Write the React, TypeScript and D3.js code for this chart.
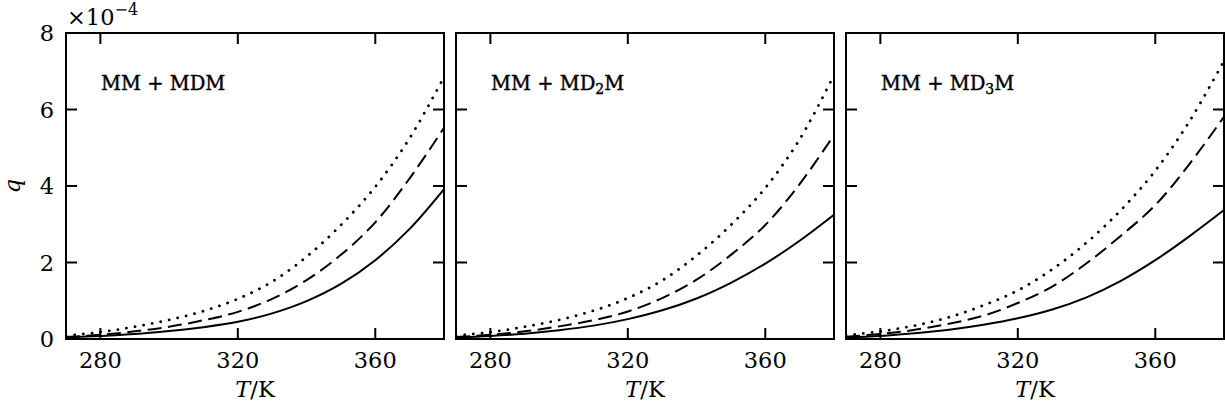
import React from 'react';
import * as d3 from 'd3';

// Temperature grid (K)
const temps = [270, 280, 290, 300, 310, 320, 330, 340, 350, 360, 370, 380];

// q values in units of 1e-4
const mdmSolid = [0.04, 0.08, 0.13, 0.21, 0.31, 0.45, 0.67, 0.99, 1.44, 2.06, 2.88, 3.92];
const mdmDashed = [0.05, 0.11, 0.2, 0.32, 0.49, 0.71, 1.05, 1.54, 2.2, 3.05, 4.2, 5.52];
const mdmDotted = [0.09, 0.18, 0.32, 0.5, 0.73, 1.05, 1.5, 2.15, 2.98, 3.98, 5.25, 6.85];

const md2mSolid = [0.04, 0.08, 0.14, 0.23, 0.35, 0.52, 0.75, 1.06, 1.47, 1.97, 2.57, 3.25];
const md2mDashed = [0.05, 0.11, 0.2, 0.33, 0.49, 0.72, 1.07, 1.55, 2.2, 2.98, 4.05, 5.33];
const md2mDotted = [0.09, 0.18, 0.32, 0.5, 0.74, 1.07, 1.53, 2.18, 2.98, 3.95, 5.22, 6.9];

const md3mSolid = [0.04, 0.08, 0.15, 0.24, 0.37, 0.54, 0.77, 1.09, 1.52, 2.06, 2.69, 3.37];
const md3mDashed = [0.06, 0.13, 0.24, 0.4, 0.61, 0.94, 1.37, 1.98, 2.7, 3.5, 4.58, 5.81];
const md3mDotted = [0.1, 0.2, 0.35, 0.57, 0.88, 1.27, 1.82, 2.52, 3.37, 4.4, 5.7, 7.27];

const panelNames = ['MDM', 'MD2M', 'MD3M'];
const xTicks = [280, 320, 360];
const yTicks = [0, 2, 4, 6, 8];

const panels = [
  { name: panelNames[0], sub: '', series: [mdmSolid, mdmDashed, mdmDotted] },
  { name: panelNames[1], sub: '2', series: [md2mSolid, md2mDashed, md2mDotted] },
  { name: panelNames[2], sub: '3', series: [md3mSolid, md3mDashed, md3mDotted] },
];

const W = 1225;
const H = 415;
const panelLefts = [66, 456, 846];
const panelW = 378;
const top = 33;
const panelH = 306;
const font = 'DejaVu Serif';
const FS = 22.5;
const TICK = 11;

function Panel({ idx }: { idx: number }) {
  const p = panels[idx];
  const left = panelLefts[idx];
  const x = d3.scaleLinear().domain([270, 380]).range([left, left + panelW]);
  const y = d3.scaleLinear().domain([0, 8]).range([top + panelH, top]);
  const line = d3
    .line<number>()
    .x((_, i) => x(temps[i]))
    .y((d) => y(d))
    .curve(d3.curveCatmullRom.alpha(0.5));
  const clipId = `clip${idx}`;
  const styles = [
    { dash: undefined as string | undefined, w: 2, cap: 'butt' },
    { dash: '14 6.5', w: 2, cap: 'butt' },
    { dash: '0.1 8.6', w: 2.8, cap: 'round' },
  ];
  return (
    <g>
      <defs>
        <clipPath id={clipId}>
          <rect x={left} y={top} width={panelW} height={panelH} />
        </clipPath>
      </defs>
      <g clipPath={`url(#${clipId})`}>
        {p.series.map((s, i) => (
          <path
            key={i}
            d={line(s) || ''}
            fill="none"
            stroke="#000"
            strokeWidth={styles[i].w}
            strokeDasharray={styles[i].dash}
            strokeLinecap={styles[i].cap as any}
          />
        ))}
      </g>
      {xTicks.map((t) => (
        <g key={'xt' + t}>
          <line x1={x(t)} x2={x(t)} y1={top + panelH} y2={top + panelH - TICK} stroke="#000" strokeWidth={2} />
          <line x1={x(t)} x2={x(t)} y1={top} y2={top + TICK} stroke="#000" strokeWidth={2} />
          <text x={x(t)} y={368} textAnchor="middle" fontFamily={font} fontSize={FS}>
            {t}
          </text>
        </g>
      ))}
      {yTicks.map((t) => (
        <g key={'yt' + t}>
          <line x1={left} x2={left + TICK} y1={y(t)} y2={y(t)} stroke="#000" strokeWidth={2} />
          <line x1={left + panelW} x2={left + panelW - TICK} y1={y(t)} y2={y(t)} stroke="#000" strokeWidth={2} />
          {idx === 0 && (
            <text x={54} y={y(t) + 8} textAnchor="end" fontFamily={font} fontSize={FS}>
              {t}
            </text>
          )}
        </g>
      ))}
      <rect x={left} y={top} width={panelW} height={panelH} fill="none" stroke="#000" strokeWidth={2} />
      <text x={left + 35} y={90} fontFamily={font} fontSize={19.5} stroke="#000" strokeWidth={0.4}>
        {p.sub ? (
          <>
            MM + MD
            <tspan fontSize={14} dy={4}>
              {p.sub}
            </tspan>
            <tspan dy={-4}>M</tspan>
          </>
        ) : (
          'MM + MDM'
        )}
      </text>
      <text x={left + panelW / 2} y={397} textAnchor="middle" fontFamily={font} fontSize={FS}>
        <tspan fontStyle="italic">T</tspan>/K
      </text>
    </g>
  );
}

export default function App() {
  return (
    <svg
      width={W}
      height={H}
      style={{ position: 'absolute', left: 0, top: 0, background: '#fff' }}
    >
      <rect x={0} y={0} width={W} height={H} fill="#fff" />
      {panels.map((_, i) => (
        <Panel key={i} idx={i} />
      ))}
      <text x={67} y={25} fontFamily={font} fontSize={FS}>
        ×10
        <tspan fontSize={16} dy={-10}>
          −4
        </tspan>
      </text>
      <text
        transform="translate(20,186) rotate(-90)"
        textAnchor="middle"
        fontFamily={font}
        fontSize={FS}
        fontStyle="italic"
      >
        q
      </text>
    </svg>
  );
}
